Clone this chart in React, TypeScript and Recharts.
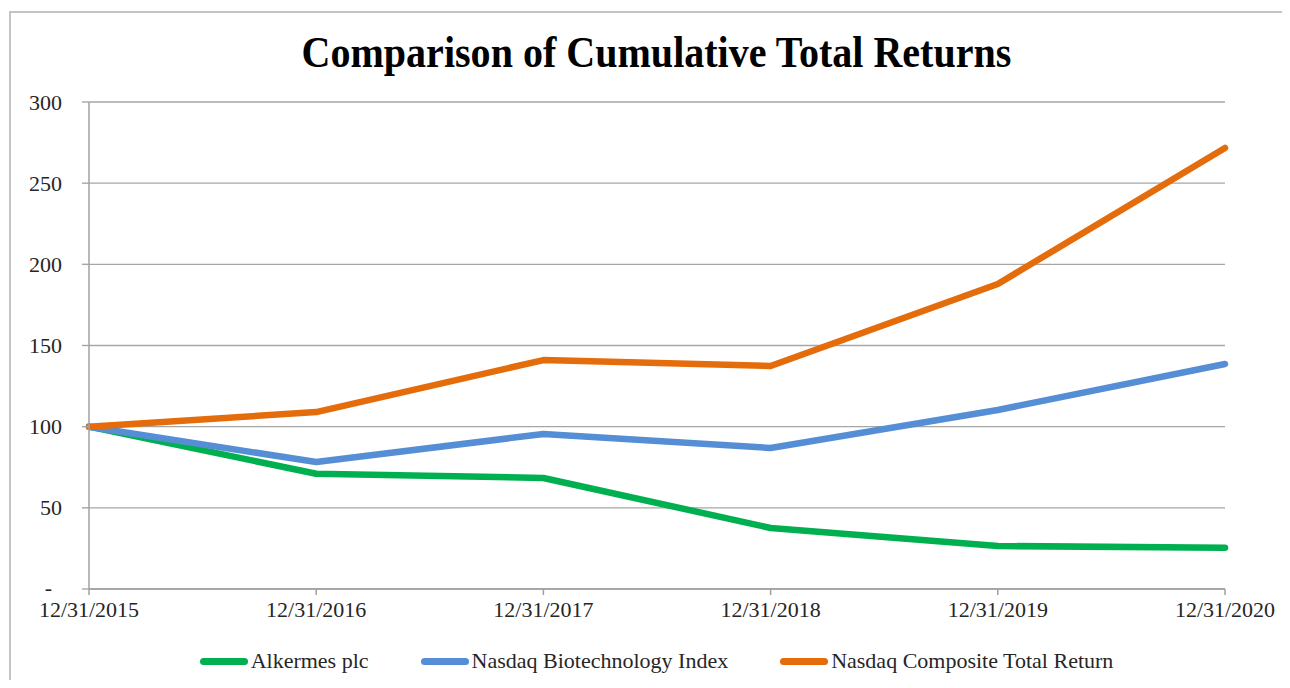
import React from "react";
import { LineChart, Line, XAxis, YAxis, CartesianGrid } from "recharts";

const categories = ["12/31/2015", "12/31/2016", "12/31/2017", "12/31/2018", "12/31/2019", "12/31/2020"];
const alkermes = [100, 71, 68.4, 37.6, 26.5, 25.4];
const biotech = [100, 78.2, 95.5, 86.9, 110.3, 138.6];
const composite = [100, 109, 141, 137.4, 187.9, 271.7];
const yTicks = [0, 50, 100, 150, 200, 250, 300];

const seriesNames = ["Alkermes plc", "Nasdaq Biotechnology Index", "Nasdaq Composite Total Return"];
const seriesKeys = ["alkermes", "biotech", "composite"];
const seriesColors = ["#00B050", "#558ED5", "#E46C0A"];

const data = categories.map((c, i) => ({
  date: c,
  alkermes: alkermes[i],
  biotech: biotech[i],
  composite: composite[i],
}));

const FONT = "'Liberation Serif', 'Times New Roman', Times, 'DejaVu Serif', serif";

const YTick = (props: any) => {
  const { x, y, payload } = props;
  const v = payload.value;
  return (
    <text
      x={v === 0 ? x - 10 : x}
      y={v === 0 ? y - 2 : y}
      textAnchor="end"
      dominantBaseline="central"
      style={{ fontFamily: FONT, fontSize: 22 }}
      fill="#262626"
    >
      {v === 0 ? "-" : String(v)}
    </text>
  );
};

const XTick = (props: any) => {
  const { x, y, payload } = props;
  return (
    <text x={x} y={y} dy="0.71em" textAnchor="middle" style={{ fontFamily: FONT, fontSize: 22 }} fill="#262626">
      {payload.value}
    </text>
  );
};

export default function App() {
  return (
    <div style={{ position: "relative", width: 1274, height: 672, overflow: "hidden", background: "#fff", fontFamily: FONT }}>
      <div
        style={{
          position: "absolute",
          left: 1,
          top: 3,
          width: 1400,
          height: 800,
          borderTop: "2px solid #c4c4c4",
          borderLeft: "2px solid #c4c4c4",
          boxSizing: "border-box",
        }}
      />
      <div
        style={{
          position: "absolute",
          left: 0,
          width: 1297,
          top: 22,
          textAlign: "center",
          fontFamily: FONT,
          fontWeight: "bold",
          fontSize: 45,
          lineHeight: "45px",
          color: "#000",
          transform: "scaleX(0.89)",
          transformOrigin: "648px 0",
          whiteSpace: "nowrap",
        }}
      >
        Comparison of Cumulative Total Returns
      </div>
      <div style={{ position: "absolute", left: 0, top: 0 }}>
        <LineChart width={1274} height={672} data={data} margin={{ top: 94, right: 57, bottom: 51, left: 0 }}>
          <CartesianGrid vertical={false} stroke="#a6a6a6" strokeWidth={1.4} />
          <XAxis
            dataKey="date"
            scale="point"
            padding={{ left: 0, right: 0 }}
            height={40}
            tickSize={6}
            tickMargin={6}
            axisLine={{ stroke: "#a0a0a0", strokeWidth: 1.5 }}
            tickLine={{ stroke: "#a0a0a0", strokeWidth: 1.5 }}
            tick={<XTick />}
            interval={0}
          />
          <YAxis
            width={81}
            domain={[0, 300]}
            ticks={yTicks}
            tickSize={7}
            tickMargin={20}
            axisLine={{ stroke: "#a0a0a0", strokeWidth: 1.5 }}
            tickLine={{ stroke: "#a6a6a6", strokeWidth: 1.4 }}
            tick={<YTick />}
            interval={0}
          />
          {seriesKeys.map((k, i) => (
            <Line
              key={k}
              type="linear"
              dataKey={k}
              name={seriesNames[i]}
              stroke={seriesColors[i]}
              strokeWidth={6.5}
              strokeLinecap="round"
              strokeLinejoin="round"
              dot={false}
              activeDot={false}
              isAnimationActive={false}
            />
          ))}
        </LineChart>
      </div>
      <div
        style={{
          position: "absolute",
          left: 0,
          width: 1297,
          top: 640,
          display: "flex",
          justifyContent: "center",
          alignItems: "center",
          gap: 52,
          fontFamily: FONT,
          fontSize: 22,
          color: "#262626",
          lineHeight: "26px",
          whiteSpace: "nowrap",
        }}
      >
        {seriesNames.map((n, i) => (
          <div key={n} style={{ display: "flex", alignItems: "center" }}>
            <div style={{ width: 48, height: 7, borderRadius: 4, background: seriesColors[i], marginRight: 3 }} />
            <span>{n}</span>
          </div>
        ))}
      </div>
    </div>
  );
}
